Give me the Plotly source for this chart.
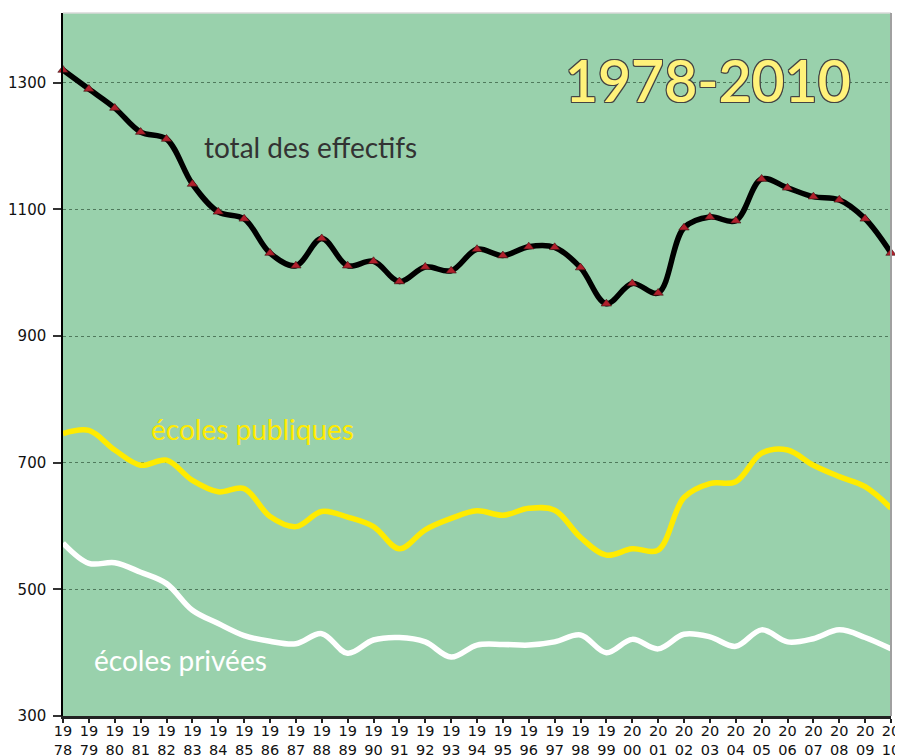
import plotly.graph_objects as go

years = list(range(1978, 2011))
tick_labels = [f"{str(y)[:2]}<br>{str(y)[2:]}" for y in years]

total = [1320, 1290, 1260, 1222, 1211, 1140, 1096, 1085, 1031, 1011, 1054,
         1011, 1018, 986, 1009, 1003, 1037, 1027, 1041, 1040, 1008, 951,
         983, 968, 1071, 1088, 1082, 1148, 1134, 1120, 1115, 1085, 1031]
publiques = [746, 751, 720, 696, 704, 672, 654, 659, 615, 599, 623,
             614, 599, 564, 594, 612, 624, 617, 628, 625, 582, 554,
             564, 562, 645, 667, 670, 715, 720, 696, 678, 662, 628]
privees = [573, 541, 542, 527, 509, 467, 446, 427, 418, 414, 430,
           399, 420, 424, 417, 393, 412, 413, 412, 417, 428, 400,
           421, 406, 429, 425, 410, 436, 417, 422, 436, 424, 406]

y_ticks = [300, 500, 700, 900, 1100, 1300]

BG = "#99D1AC"

fig = go.Figure()
fig.add_trace(go.Scatter(x=years, y=privees, mode="lines",
                         line=dict(color="#FFFFFF", width=5.5, shape="spline", smoothing=1),
                         hoverinfo="skip", showlegend=False))
fig.add_trace(go.Scatter(x=years, y=publiques, mode="lines",
                         line=dict(color="#FFEB00", width=5.5, shape="spline", smoothing=1),
                         hoverinfo="skip", showlegend=False))
fig.add_trace(go.Scatter(x=years, y=total, mode="lines+markers",
                         line=dict(color="#000000", width=5.5, shape="spline", smoothing=1),
                         marker=dict(symbol="triangle-up", size=9, color="#B0202C",
                                     line=dict(color="#3A1010", width=0.6)),
                         cliponaxis=False,
                         hoverinfo="skip", showlegend=False))

outline = ("1px 1px 0 #444, -1px -1px 0 #444, 1px -1px 0 #444, -1px 1px 0 #444, "
           "0 1px 0 #444, 0 -1px 0 #444, 1px 0 0 #444, -1px 0 0 #444")

fig.add_annotation(x=1987.55, y=1198, xref="x", yref="y", text="total des effectifs",
                   showarrow=False, font=dict(family="Lato", size=28, color="#333333"))
fig.add_annotation(x=1985.32, y=753, xref="x", yref="y", text="écoles publiques",
                   showarrow=False, font=dict(family="Lato", size=28, color="#FFEB00"))
fig.add_annotation(x=1982.56, y=388, xref="x", yref="y", text="écoles privées",
                   showarrow=False, font=dict(family="Lato", size=28, color="#FFFFFF"))
fig.add_annotation(x=2002.93, y=1304, xref="x", yref="y", text="1978-2010",
                   showarrow=False,
                   font=dict(family="Lato", size=57, weight=600, color="#FFF27A", shadow=outline))

# light border on top and right
fig.add_shape(type="line", xref="paper", yref="paper", x0=0, x1=1, y0=1, y1=1,
              line=dict(color="#D8D8D8", width=1.5))
fig.add_shape(type="line", xref="paper", yref="paper", x0=1, x1=1, y0=0, y1=1,
              line=dict(color="#A0A0A0", width=2))

# page body has an 8px margin: size the figure so the plot area lands where the reference has it
fig.update_layout(
    width=895, height=748,
    margin=dict(l=55, r=12, t=5, b=40),
    paper_bgcolor="#FFFFFF",
    plot_bgcolor=BG,
    showlegend=False,
)
fig.update_xaxes(
    range=[1978, 2010],
    tickvals=years, ticktext=tick_labels,
    ticks="outside", ticklen=4, tickwidth=1.5, tickcolor="#222222",
    ticklabelstandoff=-4,
    showline=True, linecolor="#222222", linewidth=3,
    showgrid=False, zeroline=False,
    tickfont=dict(family="DejaVu Sans", size=14.5, color="#111111"),
    tickangle=0, automargin=False,
)
fig.update_yaxes(
    range=[300, 1410],
    tickvals=y_ticks,
    ticks="outside", ticklen=8, tickwidth=1.5, tickcolor="#333333",
    ticklabelstandoff=4,
    showline=True, linecolor="#000000", linewidth=1.5,
    showgrid=True, gridcolor="#4F7A5C", griddash="dot", gridwidth=1,
    zeroline=False,
    tickfont=dict(family="DejaVu Sans", size=15, color="#111111"),
    automargin=False,
)

fig.write_html("out.html")
